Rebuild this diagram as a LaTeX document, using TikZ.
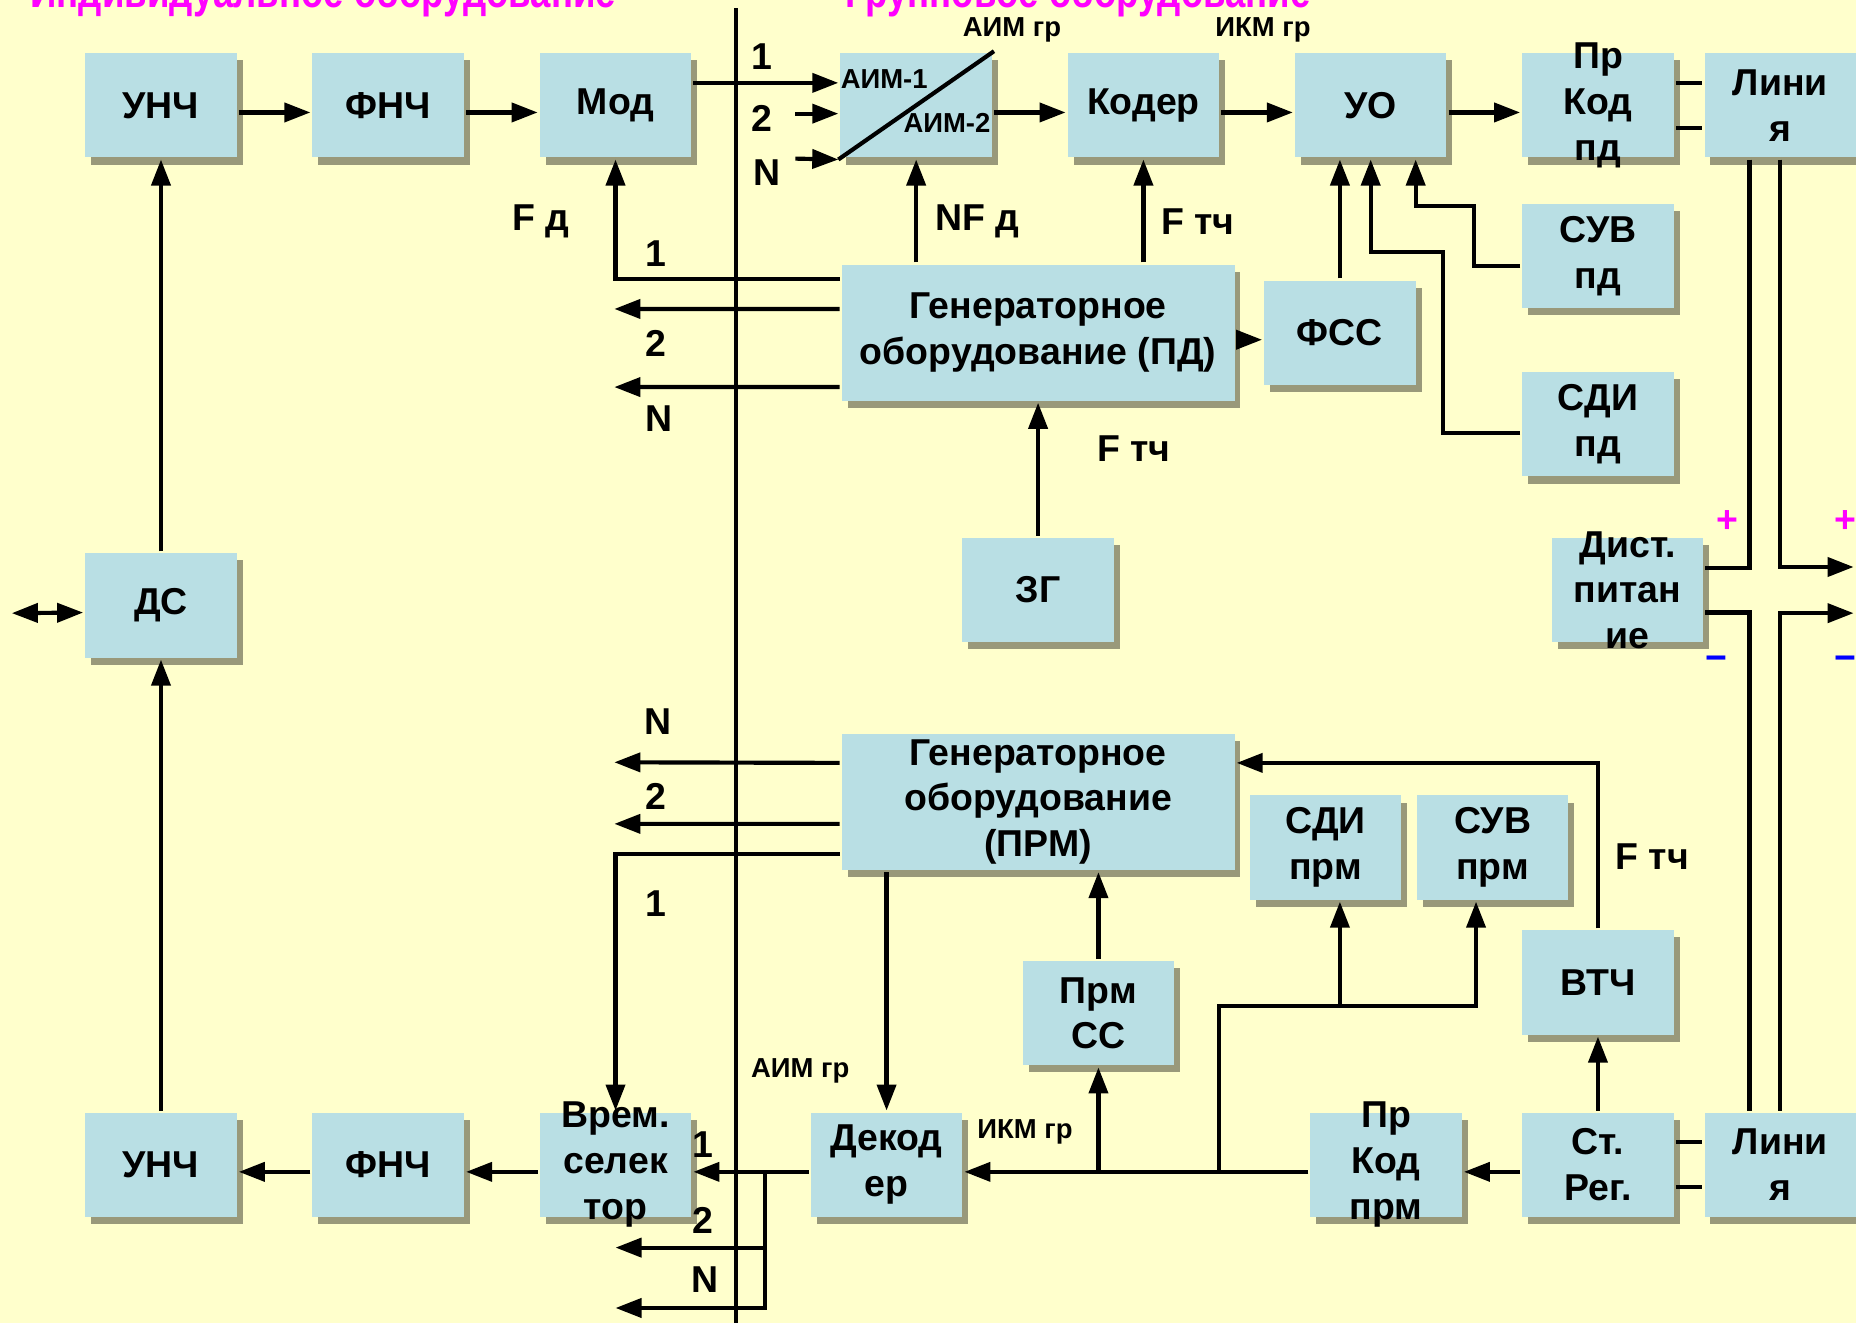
\documentclass[tikz,border=0pt]{standalone}
\usepackage{fontspec}
\setmainfont{Liberation Sans}
\newfontfamily\uzkij[FakeStretch=0.8]{Liberation Sans}
\usepackage{xcolor}
\usetikzlibrary{arrows.meta, positioning, shadows}
\definecolor{fon}{RGB}{255,255,204}
\definecolor{blokfill}{RGB}{185,223,228}
\definecolor{lila}{RGB}{255,0,255}

\begin{document}
\begin{tikzpicture}[x=0.1mm, y=-0.1mm, line width=1pt,
  >={Triangle[length=2.2mm,width=1.6mm]},
  every node/.style={font=\fontsize{9}{11}\selectfont\bfseries},
  blok/.style={fill=blokfill, minimum width=12.8mm, minimum height=8.8mm,
    inner sep=1pt, align=center,
    drop shadow={shadow xshift=0.5mm, shadow yshift=-0.6mm, fill=black, opacity=0.4}},
  gen/.style={blok, minimum width=33.2mm, minimum height=11.5mm},
  txt/.style={align=center},
  mal/.style={font=\fontsize{6.6}{7.5}\selectfont\bfseries},
  zagl/.style={lila, font=\uzkij\fontsize{11}{13}\selectfont\bfseries, anchor=base}]
  % Frame and background
  \useasboundingbox (0,0) rectangle (1568,1118);
  \fill[fon] (0,0) rectangle (1568,1118);
  % Headings
  \node[zagl] (zindiv) at (273,6) {Индивидуальное оборудование};
  \node[zagl] (zgrupp) at (911,6) {Групповое оборудование};
  % Divider
  \draw (622,7) -- (622,1118);

  % Transmit row
  \node[blok] (unch1) at (136,89) {УНЧ};
  \node[blok] (fnch1) at (328,89) {ФНЧ};
  \node[blok] (mod) at (520,89) {Мод};
  \node[blok] (aim) at (774,89) {};
  \node[blok] (koder) at (966,89) {Кодер};
  \node[blok] (uo) at (1158,89) {УО};
  \node[blok, label={[txt]center:{Пр\\Код\\пд}}] (prkodpd) at (1350,89) {};
  \node[blok] (lin1) at (1504,89) {Лини\\я};
  % Middle blocks
  \node[gen] (gpd) at (877,281) {Генераторное\\оборудование (ПД)};
  \node[blok] (fss) at (1132,281) {ФСС};
  \node[blok] (suvpd) at (1350,216.5) {СУВ\\пд};
  \node[blok] (sdipd) at (1350,358.5) {СДИ\\пд};
  \node[blok] (zg) at (877,498.5) {ЗГ};
  \node[blok] (ds) at (136,511.5) {ДС};
  \node[blok, label={[txt]center:{Дист.\\питан\\ие}}] (dist) at (1375,498.5) {};
  \node[gen] (gprm) at (877,677.5) {Генераторное\\оборудование\\(ПРМ)};
  \node[blok] (sdiprm) at (1120,716) {СДИ\\прм};
  \node[blok] (suvprm) at (1261,716) {СУВ\\прм};
  \node[blok] (prmss) at (928,856) {Прм\\СС};
  \node[blok] (vtch) at (1350,830) {ВТЧ};
  % Receive row
  \node[blok] (unch2) at (136,984) {УНЧ};
  \node[blok] (fnch2) at (328,984) {ФНЧ};
  \node[blok, label={[txt]center:{Врем.\\селек\\тор}}] (vrem) at (520,984) {};
  \node[blok] (dekoder) at (749,984) {Декод\\ер};
  \node[blok, label={[txt]center:{Пр\\Код\\прм}}] (prkodprm) at (1171,984) {};
  \node[blok] (streg) at (1350,984) {Ст.\\Рег.};
  \node[blok] (lin2) at (1504,984) {Лини\\я};

  % Free ends
  \coordinate (vh2) at (672,96);
  \coordinate (vhN) at (672,134);
  \coordinate (pd2) at (519,261);
  \coordinate (pdN) at (519,327);
  \coordinate (dsvh) at (10,518);
  \coordinate (plus) at (1566,479);
  \coordinate (minus) at (1566,518);
  \coordinate (prmN) at (519,644);
  \coordinate (prm2) at (519,696);
  \coordinate (otv) at (646,990);
  \coordinate (vr2) at (520,1054);
  \coordinate (vrN) at (520,1105);
  \coordinate (shina) at (1030,850);

  % Transmit path
  \draw[->] ([yshift=-0.6mm]unch1.east) -- ([yshift=-0.6mm]fnch1.west);
  \draw[->] ([yshift=-0.6mm]fnch1.east) -- ([yshift=-0.6mm]mod.west);
  \draw[->] ([yshift=1.9mm]mod.east) -- ([yshift=1.9mm]aim.west);
  \draw[->] (vh2) -- (vh2 -| aim.west);
  \draw[->] (vhN) -- (aim.south west);
  \draw (aim.south west) -- (aim.north east);
  \draw[->] ([yshift=-0.6mm]aim.east) -- ([yshift=-0.6mm]koder.west);
  \draw[->] ([yshift=-0.6mm]koder.east) -- ([yshift=-0.6mm]uo.west);
  \draw[->] ([yshift=-0.6mm]uo.east) -- ([yshift=-0.6mm]prkodpd.west);
  \draw ([yshift=1.9mm]prkodpd.east) -- ([yshift=1.9mm]lin1.west);
  \draw ([yshift=-1.9mm]prkodpd.east) -- ([yshift=-1.9mm]lin1.west);
  % Generator (PD)
  \draw[->] (aim.south |- gpd.north) -- (aim.south);
  \draw[->] (koder.south |- gpd.north) -- (koder.south);
  \draw[->] ([yshift=-0.6mm]gpd.east) -- ([yshift=-0.6mm]fss.west);
  \draw[->] (fss.north) -- (fss.north |- uo.south);
  \draw[->] ([yshift=-0.7mm]sdipd.west) -- ++(-65,0) |- ([yshift=-7.8mm]uo.south) -- (uo.south);
  \draw[->] ([yshift=-0.8mm]suvpd.west) -- ++(-39,0) |- ([xshift=3.8mm, yshift=-3.9mm]uo.south) -- ([xshift=3.8mm]uo.south);
  \draw[->] (zg.north) -- (gpd.south);
  \draw[->] ([yshift=4.5mm]gpd.west) -| (mod.south);
  \draw[->] ([yshift=2mm]gpd.west) -- (pd2);
  \draw[->] ([yshift=-4.6mm]gpd.west) -- (pdN);
  % DS
  \draw[<->] (dsvh) -- ([yshift=-0.6mm]ds.west);
  \draw[->] (ds.north) -- (unch1.south);
  \draw[->] (unch2.north) -- (ds.south);
  % Line and remote power
  \draw ([xshift=-2.6mm]lin1.south) |- ([yshift=1.9mm]dist.east);
  \draw ([yshift=-1.9mm]dist.east) -| ([xshift=-2.6mm]lin2.north);
  \draw[->] (lin1.south) |- (plus);
  \draw[->] (lin2.north) |- (minus);
  % Receive path
  \draw[->] ([yshift=-0.6mm]fnch2.west) -- ([yshift=-0.6mm]unch2.east);
  \draw[->] ([yshift=-0.6mm]vrem.west) -- ([yshift=-0.6mm]fnch2.east);
  \draw[->] ([yshift=-0.6mm]dekoder.west) -- ([yshift=-0.6mm]vrem.east);
  \draw[->] (otv) |- (vr2);
  \draw[->] (otv) |- (vrN);
  \draw[->] ([yshift=-0.6mm]prkodprm.west) -- ([yshift=-0.6mm]dekoder.east);
  \draw[->] (prmss.south |- otv) -- (prmss.south);
  \draw[->] (shina |- otv) -- (shina) -| ([xshift=1.2mm]sdiprm.south);
  \draw[->] (shina) -| ([xshift=-1.4mm]suvprm.south);
  \draw[->] ([yshift=-0.6mm]streg.west) -- ([yshift=-0.6mm]prkodprm.east);
  \draw[->] (streg.north) -- (vtch.south);
  \draw ([yshift=1.9mm]streg.east) -- ([yshift=1.9mm]lin2.west);
  \draw ([yshift=-1.9mm]streg.east) -- ([yshift=-1.9mm]lin2.west);
  % Generator (PRM)
  \draw[->] ([yshift=3.3mm]gprm.west) -- (prmN);
  \draw[->] ([yshift=-1.85mm]gprm.west) -- (prm2);
  \draw[->] ([yshift=-4.4mm]gprm.west) -| (vrem.north);
  \draw[->] (dekoder.north |- gprm.south) -- (dekoder.north);
  \draw[->] (prmss.north) -- (prmss.north |- gprm.south);
  \draw[->] (vtch.north) |- ([yshift=3.3mm]gprm.east);

  % Labels
  \node[mal] (laimgr1) at (855,25) {АИМ гр};
  \node[mal] (likmgr1) at (1067,25) {ИКМ гр};
  \node[mal] (laim1) at (747,67) {АИМ-1};
  \node[mal] (laim2) at (800,104) {АИМ-2};
  \node (lt1) at (644,48) {1};
  \node (lt2) at (644,100) {2};
  \node (ltN) at (648,146) {N};
  \node (lfd) at (457,187) {F д};
  \node (lpd1) at (554,214) {1};
  \node (lnfd) at (826,187) {NF д};
  \node (lftch1) at (1012,187) {F тч};
  \node (lpd2) at (554,290) {2};
  \node (lpdN) at (557,354) {N};
  \node (lftch2) at (958,379) {F тч};
  \node[lila] (lplus1) at (1459,441) {+};
  \node[lila] (lplus2) at (1559,441) {+};
  \node[blue] (lmin1) at (1450,560) {−};
  \node[blue] (lmin2) at (1559,560) {−};
  \node (lprmN) at (556,610) {N};
  \node (lprm2) at (554,673) {2};
  \node (lprm1) at (554,763) {1};
  \node (lftch3) at (1396,724) {F тч};
  \node[mal] (laimgr2) at (676,905) {АИМ гр};
  \node[mal] (likmgr2) at (866,956) {ИКМ гр};
  \node (lvr1) at (594,967) {1};
  \node (lvr2) at (594,1031) {2};
  \node (lvrN) at (596,1081) {N};
\end{tikzpicture}
\end{document}
